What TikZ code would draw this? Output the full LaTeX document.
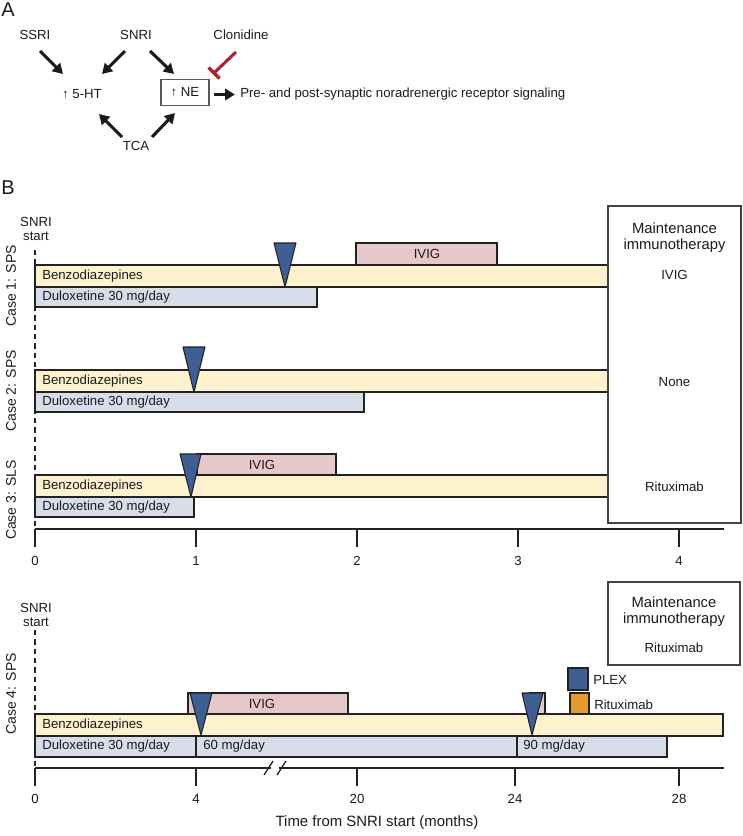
\documentclass[tikz,border=0pt]{standalone}
\usepackage{fontspec}
\setmainfont{Liberation Sans}
\usetikzlibrary{arrows.meta,fit}
\definecolor{benzo}{HTML}{FDF1CE}
\definecolor{dulox}{HTML}{D8DEE9}
\definecolor{ivig}{HTML}{E6C8CB}
\definecolor{tblue}{HTML}{3E5E94}
\definecolor{rorange}{HTML}{E59A2E}
\definecolor{inhred}{HTML}{AA232D}
\definecolor{txt}{HTML}{1A1A1A}
\definecolor{edge}{HTML}{222222}
\begin{document}
\begin{tikzpicture}[x=0.75pt,y=-0.75pt,
  font=\fontsize{9.9}{10.5}\selectfont, text=txt,
  lbl/.style={inner sep=0pt},
  biglbl/.style={inner sep=0pt, font=\fontsize{15}{16}\selectfont},
  headlbl/.style={inner sep=0pt, align=center, font=\fontsize{11.1}{12}\selectfont},
  barbox/.style={draw=edge, line width=0.9pt, inner sep=0pt},
  arr/.style={line width=2.3pt, draw=txt, -{Triangle[length=7.5pt,width=8.5pt]}},
  tri/.style={draw=edge, fill=tblue, line width=0.8pt, line join=round},
  axisline/.style={line width=1.3pt, draw=edge},
  axtick/.style={line width=1.3pt, draw=edge},
  mbox/.style={draw=edge!85, fill=white, line width=1.1pt},
  startdash/.style={draw=edge, line width=1.1pt, dash pattern=on 4pt off 3pt},
  casel/.style={inner sep=0pt, rotate=90, font=\fontsize{10.5}{12}\selectfont}]
\useasboundingbox (0,0) rectangle (743,836);

% ---------------- Panel A ----------------
\node[biglbl] (labA) at (8,10) {A};
\node[lbl] (ssri) at (35,35) {SSRI};
\node[lbl] (snri) at (136,35) {SNRI};
\node[lbl] (clon) at (241,35) {Clonidine};
\node[lbl] (ht) at (82,94) {↑ 5-HT};
\node[draw=edge!75, line width=0.8pt, minimum width=36pt, minimum height=19.5pt, inner sep=0pt] (ne) at (185,92.5) {↑ NE};
\node[lbl, anchor=west] (sig) at (240,94.5) {Pre- and post-synaptic noradrenergic receptor signaling};
\node[lbl] (tca) at (136,146) {TCA};

\coordinate (ssriT) at (40,51);   \coordinate (ssriH) at (63,74);
\coordinate (snriLT) at (125,51); \coordinate (snriLH) at (102,74);
\coordinate (snriRT) at (150,51); \coordinate (snriRH) at (174,74);
\coordinate (tcaLT) at (122,137); \coordinate (tcaLH) at (99,114);
\coordinate (tcaRT) at (152,137); \coordinate (tcaRH) at (175,113);
\coordinate (neOutT) at (214,94.5); \coordinate (neOutH) at (235,94.5);
\coordinate (clonT) at (236,52);  \coordinate (clonH) at (214,73);
\coordinate (barA) at (208.5,67.5);   \coordinate (barB) at (219.5,78.5);

\draw[arr] (ssriT) -- (ssriH);
\draw[arr] (snriLT) -- (snriLH);
\draw[arr] (snriRT) -- (snriRH);
\draw[arr] (tcaLT) -- (tcaLH);
\draw[arr] (tcaRT) -- (tcaRH);
\draw[arr] (neOutT) -- (neOutH);
\draw[inhred, line width=2.3pt] (clonT) -- (clonH);
\draw[inhred, line width=2.5pt] (barA) -- (barB);

% ---------------- Panel B (cases 1-3) ----------------
\node[biglbl] (labB) at (8,188) {B};
\node[lbl, align=center] (start1) at (36,229) {SNRI\\start};
\coordinate (d1top) at (35,250);
\coordinate (ax1o) at (35,529);
\coordinate (ax1e) at (724,529);
\draw[startdash] (d1top) -- (ax1o);

\node[casel] (case1) at (11,286) {Case 1: SPS};
\node[casel] (case2) at (11,391) {Case 2: SPS};
\node[casel] (case3) at (11,500) {Case 3: SLS};

% Case 1
\node[fit={(356,243) (497,265)}, barbox, fill=ivig] (c1ivig) {};
\node[lbl] (c1ivigT) at (427,254) {IVIG};
\node[fit={(35,265) (608,287)}, barbox, fill=benzo] (c1benzo) {};
\node[lbl, anchor=west] (c1benzoT) at (42,276) {Benzodiazepines};
\node[fit={(35,287) (317,307)}, barbox, fill=dulox] (c1dul) {};
\node[lbl, anchor=west] (c1dulT) at (42,297) {Duloxetine 30 mg/day};
\draw[tri] (274,243) -- (296,243) -- (285,287) -- cycle;

% Case 2
\node[fit={(35,370) (608,392)}, barbox, fill=benzo] (c2benzo) {};
\node[lbl, anchor=west] (c2benzoT) at (42,381) {Benzodiazepines};
\node[fit={(35,392) (364,412)}, barbox, fill=dulox] (c2dul) {};
\node[lbl, anchor=west] (c2dulT) at (42,402) {Duloxetine 30 mg/day};
\draw[tri] (183,347) -- (205,347) -- (194,392) -- cycle;

% Case 3
\node[fit={(197,454) (336,475)}, barbox, fill=ivig] (c3ivig) {};
\node[lbl] (c3ivigT) at (262,465) {IVIG};
\node[fit={(35,475) (608,497)}, barbox, fill=benzo] (c3benzo) {};
\node[lbl, anchor=west] (c3benzoT) at (42,486) {Benzodiazepines};
\node[fit={(35,497) (194,517)}, barbox, fill=dulox] (c3dul) {};
\node[lbl, anchor=west] (c3dulT) at (42,507) {Duloxetine 30 mg/day};
\draw[tri] (180,454) -- (201,454) -- (191,497) -- cycle;

% Maintenance box (cases 1-3)
\node[fit={(608,206) (741,523)}, mbox, inner sep=0pt] (mbox1) {};
\node[headlbl] (mbox1T) at (674.5,238) {Maintenance\\immunotherapy};
\node[lbl] (m1) at (674.5,275) {IVIG};
\node[lbl] (m2) at (674.5,382) {None};
\node[lbl] (m3) at (674.5,487) {Rituximab};

% Axis (cases 1-3)
\draw[axisline] (ax1o) -- (ax1e);
\foreach \x/\l in {35/0,196/1,357/2,518/3,679/4}{
  \draw[axtick] (\x,529) -- (\x,547);
  \node[lbl] at (\x,561) {\l};
}

% ---------------- Case 4 ----------------
\node[lbl, align=center] (start2) at (36,614.5) {SNRI\\start};
\coordinate (d2top) at (35,630);
\coordinate (ax2o) at (35,768);
\coordinate (ax2e) at (724,768);
\draw[startdash] (d2top) -- (ax2o);
\node[casel] (case4) at (11,694) {Case 4: SPS};

\node[fit={(608,582) (740,665)}, mbox, inner sep=0pt] (mbox2) {};
\node[headlbl] (mbox2T) at (674,611.5) {Maintenance\\immunotherapy};
\node[lbl] (m4) at (674,648) {Rituximab};

\node[fit={(568,668) (588,690)}, barbox, fill=tblue] (plexsq) {};
\node[lbl, anchor=west] (plexT) at (593,679.5) {PLEX};
\node[fit={(570,693) (589,714)}, barbox, fill=rorange] (ritsq) {};
\node[lbl, anchor=west] (ritT) at (594,704.5) {Rituximab};

\node[fit={(188,693) (348,714)}, barbox, fill=ivig] (c4ivig) {};
\node[lbl] (c4ivigT) at (262,704) {IVIG};
\node[fit={(530,693) (545,714)}, barbox, fill=ivig] (c4ivig2) {};
\node[fit={(35,714) (723,736)}, barbox, fill=benzo] (c4benzo) {};
\node[lbl, anchor=west] (c4benzoT) at (42,725) {Benzodiazepines};
\node[fit={(35,736) (196,757)}, barbox, fill=dulox] (c4d30) {};
\node[lbl, anchor=west] (c4d30T) at (42,746.5) {Duloxetine 30 mg/day};
\node[fit={(196,736) (517,757)}, barbox, fill=dulox] (c4d60) {};
\node[lbl, anchor=west] (c4d60T) at (203,746.5) {60 mg/day};
\node[fit={(517,736) (667,757)}, barbox, fill=dulox] (c4d90) {};
\node[lbl, anchor=west] (c4d90T) at (523,746.5) {90 mg/day};
\draw[tri] (190,693) -- (212,693) -- (201,735) -- cycle;
\draw[tri] (522,693) -- (543,693) -- (532,735) -- cycle;

% Axis case 4
\draw[axisline] (ax2o) -- (ax2e);
\fill[white] (271,762) rectangle (279,774);
\draw[line width=1pt, edge] (264,775) -- (273,761);
\draw[line width=1pt, edge] (277,775) -- (286,761);
\foreach \x/\l in {35/0,196/4,357/20,515/24,679/28}{
  \draw[axtick] (\x,768) -- (\x,786);
  \node[lbl] at (\x,799) {\l};
}
\node[lbl, font=\fontsize{11.2}{12}\selectfont] (xtitle) at (377,823) {Time from SNRI start (months)};
\end{tikzpicture}
\end{document}
